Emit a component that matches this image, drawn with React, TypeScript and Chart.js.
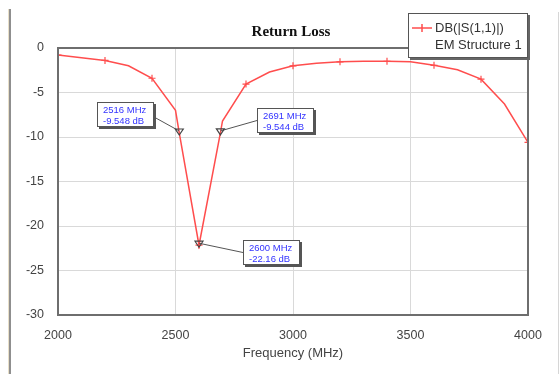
import React, { useEffect, useRef } from "react";
import { Chart, registerables } from "chart.js";

Chart.register(...registerables);

// ---- data ----
const freqs = [2000, 2100, 2200, 2300, 2400, 2500, 2516, 2600, 2691, 2700, 2800, 2900, 3000, 3100, 3200, 3300, 3400, 3500, 3600, 3700, 3800, 3900, 4000];
const s11 = [-0.8, -1.1, -1.4, -2.0, -3.4, -7.0, -9.548, -22.16, -9.544, -8.2, -4.05, -2.7, -2.0, -1.7, -1.55, -1.5, -1.5, -1.55, -1.95, -2.45, -3.5, -6.3, -10.6];
const markerFreqs = [2516, 2600, 2691];
const markerValues = [-9.548, -22.16, -9.544];
const markerLabels = [
  ["2516 MHz", "-9.548 dB"],
  ["2600 MHz", "-22.16 dB"],
  ["2691 MHz", "-9.544 dB"],
];
const chartTitle = "Return Loss";
const xTitle = "Frequency (MHz)";
const legendLines = ["DB(|S(1,1)|)", "EM Structure 1"];

// label box offsets (style) relative to marker point
const labelOffsets = [
  { dx: -82, dy: -31, side: "right" },
  { dx: 44, dy: -5, side: "left" },
  { dx: 37, dy: -25, side: "left" },
];

const RED = "#ff4d4d";
const SANS = "'Liberation Sans', Arial, sans-serif";

const decorPlugin = {
  id: "decor",
  beforeDraw(chart: any) {
    const ctx = chart.ctx;
    ctx.save();
    ctx.fillStyle = "#ffffff";
    ctx.fillRect(0, 0, chart.width, chart.height);
    ctx.fillStyle = "#e8dfc8";
    ctx.fillRect(8, 9, 1, chart.height - 9);
    ctx.fillStyle = "#8f8f8f";
    ctx.fillRect(9, 9, 2, chart.height - 9);
    ctx.fillStyle = "#d6d6d6";
    ctx.fillRect(558, 12, 1, chart.height - 12);
    ctx.restore();
  },
  afterDraw(chart: any) {
    const ctx = chart.ctx;
    const a = chart.chartArea;
    const xs = chart.scales.x;
    const ys = chart.scales.y;
    ctx.save();
    ctx.strokeStyle = "#6e6e6e";
    ctx.lineWidth = 2;
    ctx.strokeRect(a.left, a.top, a.right - a.left, a.bottom - a.top);

    ctx.fillStyle = "#111";
    ctx.font = "bold 15px 'Liberation Serif', 'Times New Roman', serif";
    ctx.textAlign = "center";
    ctx.textBaseline = "middle";
    ctx.fillText(chartTitle, 291, 32);

    ctx.fillStyle = "#444";
    ctx.font = "13px " + SANS;
    ctx.fillText(xTitle, (a.left + a.right) / 2, 353);

    markerFreqs.forEach((f, i) => {
      const px = xs.getPixelForValue(f);
      const py = ys.getPixelForValue(markerValues[i]);
      const off = labelOffsets[i];
      const bw = 57;
      const bh = 25;
      const bx = Math.round(px + off.dx);
      const by = Math.round(py + off.dy);
      ctx.strokeStyle = "#555";
      ctx.lineWidth = 1;
      ctx.beginPath();
      ctx.moveTo(px, py - 2);
      if (off.side === "right") ctx.lineTo(bx + bw, by + 15);
      else ctx.lineTo(bx, by + bh / 2);
      ctx.stroke();
      ctx.strokeStyle = "#444";
      ctx.lineWidth = 1.2;
      ctx.beginPath();
      ctx.moveTo(px - 4, py - 4);
      ctx.lineTo(px + 4, py - 4);
      ctx.lineTo(px, py + 2);
      ctx.closePath();
      ctx.stroke();
      ctx.fillStyle = "#555";
      ctx.fillRect(bx + 2, by + 2, bw, bh);
      ctx.fillStyle = "#fff";
      ctx.fillRect(bx, by, bw, bh);
      ctx.strokeStyle = "#555";
      ctx.lineWidth = 1;
      ctx.strokeRect(bx + 0.5, by + 0.5, bw - 1, bh - 1);
      ctx.fillStyle = "#3333ff";
      ctx.font = "9.5px " + SANS;
      ctx.textAlign = "left";
      ctx.textBaseline = "middle";
      ctx.fillText(markerLabels[i][0], bx + 6, by + 8);
      ctx.fillText(markerLabels[i][1], bx + 6, by + 19);
    });

    const lx = 408, ly = 13, lw = 120, lh = 45;
    ctx.fillStyle = "#666";
    ctx.fillRect(lx + 2, ly + 2, lw, lh);
    ctx.fillStyle = "#fff";
    ctx.fillRect(lx, ly, lw, lh);
    ctx.strokeStyle = "#555";
    ctx.lineWidth = 1;
    ctx.strokeRect(lx + 0.5, ly + 0.5, lw - 1, lh - 1);
    ctx.strokeStyle = RED;
    ctx.lineWidth = 1.5;
    ctx.beginPath();
    ctx.moveTo(412, 28);
    ctx.lineTo(432, 28);
    ctx.moveTo(422, 24);
    ctx.lineTo(422, 32);
    ctx.stroke();
    ctx.fillStyle = "#333";
    ctx.font = "13px " + SANS;
    ctx.textAlign = "left";
    ctx.textBaseline = "middle";
    ctx.fillText(legendLines[0], 435, 28);
    ctx.fillText(legendLines[1], 435, 45);
    ctx.restore();
  },
};

export default function App() {
  const ref = useRef<HTMLCanvasElement | null>(null);
  useEffect(() => {
    document.body.style.margin = "0";
    if (!ref.current) return;
    const chart = new Chart(ref.current, {
      type: "line",
      data: {
        datasets: [
          {
            label: legendLines[0],
            data: freqs.map((f, i) => ({ x: f, y: s11[i] })),
            borderColor: RED,
            backgroundColor: RED,
            borderWidth: 1.5,
            pointStyle: "cross",
            pointRadius: (c: any) => {
              const v = c.raw ? c.raw.x : 0;
              return v % 200 === 0 ? 3.5 : 0;
            },
            pointBorderColor: RED,
            pointBorderWidth: 1.2,
            tension: 0,
          },
        ],
      },
      options: {
        responsive: false,
        animation: false,
        devicePixelRatio: 1,
        layout: { padding: { left: 0, right: 31, top: 48, bottom: 0 } },
        plugins: { legend: { display: false }, tooltip: { enabled: false }, title: { display: false } },
        scales: {
          x: {
            type: "linear",
            min: 2000,
            max: 4000,
            afterFit: (s: any) => { s.height = 59; },
            ticks: {
              stepSize: 500,
              padding: 13,
              color: "#444",
              font: { size: 12.5, family: SANS },
              maxRotation: 0,
              callback: (v: any) => String(v),
            },
            grid: { color: "#d9d9d9", lineWidth: 1, drawTicks: false },
            border: { display: false },
          },
          y: {
            min: -30,
            max: 0,
            afterFit: (s: any) => { s.width = 58; },
            ticks: {
              stepSize: 5,
              padding: 14,
              color: "#444",
              font: { size: 12.5, family: SANS },
              callback: (v: any) => String(v),
            },
            grid: { color: "#d9d9d9", lineWidth: 1, drawTicks: false },
            border: { display: false },
          },
        },
      },
      plugins: [decorPlugin],
    } as any);
    return () => chart.destroy();
  }, []);
  return <canvas ref={ref} width={559} height={374} style={{ display: "block" }} />;
}
